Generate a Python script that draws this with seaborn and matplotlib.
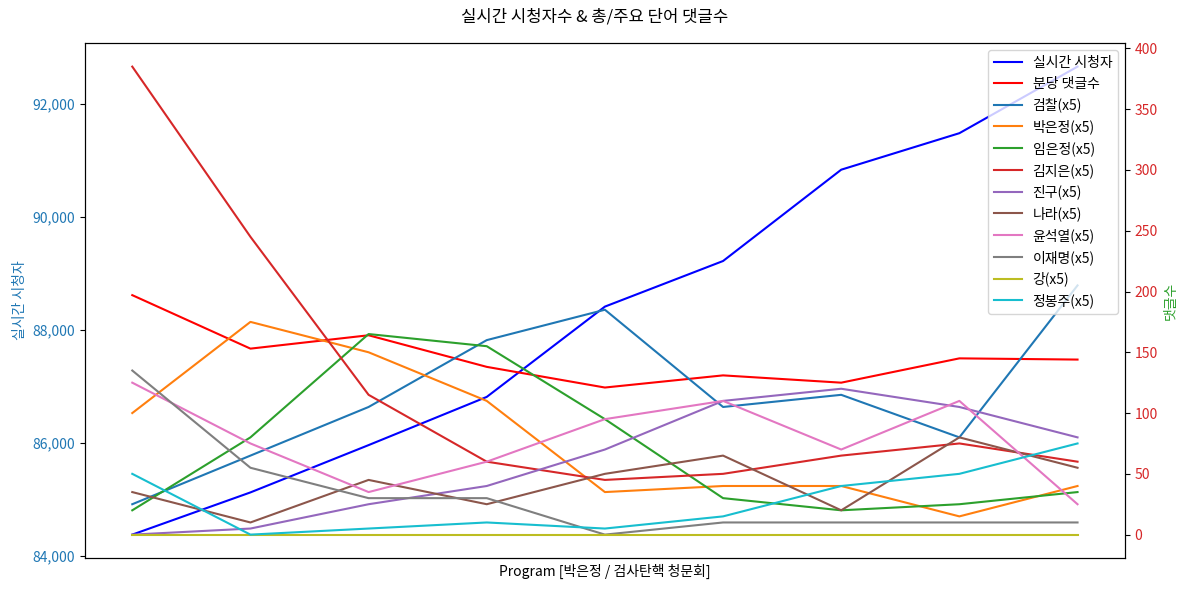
import matplotlib
matplotlib.use("Agg")
import matplotlib.pyplot as plt
import matplotlib.ticker as mticker
import numpy as np
import pandas as pd
import seaborn as sns

plt.rcParams['font.family'] = ['Noto Sans CJK KR', 'DejaVu Sans']
plt.rcParams['axes.unicode_minus'] = False

# ---- data ----
x_idx = list(range(9))
viewers = [84371, 85118, 85955, 86808, 88406, 89213, 90829, 91475, 92653]
comments_per_min = [197, 153, 164, 138, 121, 131, 125, 145, 144]

kw_names = ['검찰(x5)', '박은정(x5)', '임은정(x5)', '김지은(x5)', '진구(x5)',
            '나라(x5)', '윤석열(x5)', '이재명(x5)', '강(x5)', '정봉주(x5)']
kw_geomchal = [25, 65, 105, 160, 185, 105, 115, 80, 205]
kw_parkeunjeong = [100, 175, 150, 110, 35, 40, 40, 15, 40]
kw_imeunjeong = [20, 80, 165, 155, 95, 30, 20, 25, 35]
kw_kimjieun = [385, 245, 115, 60, 45, 50, 65, 75, 60]
kw_jingu = [0, 5, 25, 40, 70, 110, 120, 105, 80]
kw_nara = [35, 10, 45, 25, 50, 65, 20, 80, 55]
kw_yoon = [125, 75, 35, 60, 95, 110, 70, 110, 25]
kw_lee = [135, 55, 30, 30, 0, 10, 10, 10, 10]
kw_kang = [0, 0, 0, 0, 0, 0, 0, 0, 0]
kw_jung = [50, 0, 5, 10, 5, 15, 40, 50, 75]
kw_values = [kw_geomchal, kw_parkeunjeong, kw_imeunjeong, kw_kimjieun, kw_jingu,
             kw_nara, kw_yoon, kw_lee, kw_kang, kw_jung]

tab10 = ['tab:blue', 'tab:orange', 'tab:green', 'tab:red', 'tab:purple',
         'tab:brown', 'tab:pink', 'tab:gray', 'tab:olive', 'tab:cyan']

fig, ax1 = plt.subplots(figsize=(11.89, 5.92), dpi=100)
ax2 = ax1.twinx()

sns.lineplot(x=x_idx, y=viewers, ax=ax1, color='blue', label='실시간 시청자', linewidth=1.5)
sns.lineplot(x=x_idx, y=comments_per_min, ax=ax2, color='red', label='분당 댓글수', linewidth=1.5)
for name, vals, c in zip(kw_names, kw_values, tab10):
    sns.lineplot(x=x_idx, y=vals, ax=ax2, color=c, label=name, linewidth=1.5)

for a in (ax1, ax2):
    lg = a.get_legend()
    if lg is not None:
        lg.remove()

ax1.set_xticks([])
ax1.set_xlabel('Program [박은정 / 검사탄핵 청문회]', fontsize=10)
ax1.set_ylabel('실시간 시청자', color='tab:blue', fontsize=10)
ax2.set_ylabel('댓글수', color='tab:green', fontsize=10)
ax1.tick_params(axis='y', labelcolor='tab:blue', labelsize=10)
ax2.tick_params(axis='y', labelcolor='tab:red', labelsize=10)
ax1.yaxis.set_major_formatter(mticker.FuncFormatter(lambda v, p: f'{int(v):,}'))

h1, l1 = ax1.get_legend_handles_labels()
h2, l2 = ax2.get_legend_handles_labels()
ax2.legend(h1 + h2, l1 + l2, loc='upper right', fontsize=10)

fig.suptitle('실시간 시청자수 & 총/주요 단어 댓글수', fontsize=12, y=0.985)
fig.subplots_adjust(left=0.0715, right=0.946, top=0.927, bottom=0.0574)
fig.savefig('out.png', dpi=100)
